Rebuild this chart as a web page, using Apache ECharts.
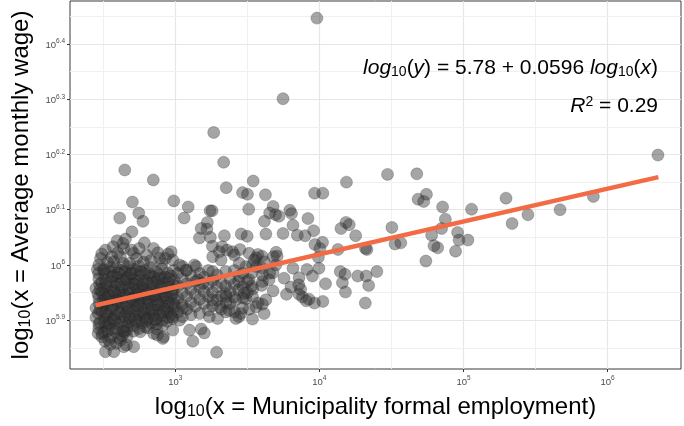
<!DOCTYPE html>
<html>
<head>
<meta charset="utf-8">
<script src="https://cdn.jsdelivr.net/npm/echarts@6/dist/echarts.min.js"></script>
<style>
  html, body { margin: 0; padding: 0; background: #fff; }
  #chart { width: 684px; height: 426px; }
</style>
</head>
<body>
<div id="chart"></div>
<script>
// every point is [log10(formal employment), log10(average monthly wage)]

// isolated high-wage municipalities
const outlierPoints = [
  [3.983, 6.447], [3.748, 6.301], [3.267, 6.240], [6.349, 6.199], [2.650, 6.172], [3.336, 6.186],
  [2.848, 6.154], [3.354, 6.140], [3.541, 6.152], [3.467, 6.131], [3.501, 6.128], [3.626, 6.127],
  [3.967, 6.130], [4.024, 6.130], [4.188, 6.150], [4.473, 6.164], [4.676, 6.165], [4.743, 6.128],
  [4.685, 6.119], [4.724, 6.115], [4.855, 6.105], [5.056, 6.101], [5.295, 6.121], [5.670, 6.100],
  [5.901, 6.124], [5.447, 6.091], [5.337, 6.075]
];

// scattered points around the cluster
const spreadPoints = [
  [2.703, 6.114], [2.990, 6.116], [2.747, 6.094], [2.776, 6.079], [2.615, 6.085], [3.090, 6.105],
  [3.062, 6.085], [3.242, 6.098], [3.256, 6.098], [3.510, 6.101], [3.223, 6.077], [3.679, 6.106],
  [3.655, 6.094], [3.696, 6.091], [3.720, 6.088], [3.619, 6.079], [3.795, 6.099], [3.807, 6.093],
  [3.817, 6.072], [3.921, 6.084], [3.220, 6.065], [3.168, 6.049], [3.244, 6.050], [3.341, 6.053],
  [3.458, 6.056], [3.499, 6.052], [3.629, 6.056], [3.748, 6.057], [3.847, 6.054], [3.901, 6.053],
  [3.960, 6.062], [3.969, 6.037], [4.022, 6.041], [4.150, 6.066], [4.185, 6.077], [4.207, 6.073],
  [4.252, 6.053], [4.503, 6.068], [4.525, 6.038], [4.565, 6.040], [4.320, 6.030], [4.330, 6.028],
  [4.129, 6.028], [4.004, 6.030], [4.779, 6.054], [4.821, 6.031], [4.795, 6.035], [4.874, 6.083],
  [4.739, 6.007], [3.993, 6.014], [3.700, 6.023], [3.681, 6.015], [3.707, 6.016], [3.573, 6.019],
  [3.562, 6.013], [3.603, 6.016], [3.449, 6.028], [3.398, 6.024], [3.359, 6.027], [3.325, 6.033],
  [3.258, 6.034], [3.490, 5.997], [3.605, 5.994], [3.536, 6.000], [3.698, 6.000], [3.655, 5.985],
  [3.679, 5.986], [3.817, 5.994], [3.914, 5.992], [3.859, 5.977], [3.997, 5.994], [3.755, 5.976],
  [3.605, 5.970], [3.513, 5.973], [3.444, 5.980], [4.043, 5.966], [3.952, 5.980], [3.803, 5.960],
  [3.772, 5.947], [3.859, 5.947], [3.883, 5.942], [3.928, 5.938], [3.966, 5.931], [4.024, 5.934],
  [4.145, 5.988], [4.178, 5.983], [4.160, 5.968], [4.181, 5.951], [4.266, 5.980], [4.325, 5.980],
  [4.342, 5.963], [4.399, 5.988], [4.319, 5.931], [3.679, 5.953], [3.600, 5.963], [3.539, 5.957],
  [3.536, 5.943], [3.490, 5.939], [3.575, 5.931], [3.605, 5.929], [3.513, 5.920], [3.412, 5.915],
  [3.442, 5.906], [3.311, 5.924], [3.352, 5.931], [4.848, 6.066], [4.959, 6.059], [4.969, 6.045],
  [5.031, 6.045], [4.945, 6.025], [3.870, 5.956], [3.857, 5.964], [3.909, 5.935], [3.180, 6.066],
  [3.306, 6.024], [3.260, 6.015], [3.318, 6.009], [2.972, 6.024], [2.983, 6.009], [3.052, 5.997],
  [3.145, 5.997], [3.513, 6.021], [3.548, 6.009], [3.564, 5.997], [2.983, 5.882], [3.099, 5.882],
  [3.180, 5.884], [3.202, 5.877], [3.122, 5.862], [3.287, 5.842], [2.979, 5.906], [3.030, 5.900],
  [3.237, 5.906], [3.294, 5.903], [3.352, 5.915], [3.421, 5.903], [3.456, 5.912], [3.536, 5.902],
  [3.052, 5.922], [3.479, 5.949], [3.560, 5.924], [2.700, 6.060], [2.655, 6.047], [2.786, 6.040],
  [2.850, 6.030], [2.597, 6.044], [2.569, 6.033], [2.516, 6.027], [2.482, 6.012], [2.470, 6.000],
  [2.505, 5.991], [2.643, 6.030], [2.712, 6.021], [2.684, 6.003], [2.574, 6.006], [2.931, 6.012],
  [2.907, 6.002], [2.493, 5.876], [2.539, 5.864], [2.620, 5.864], [2.666, 5.870], [2.758, 5.879],
  [2.850, 5.876], [2.919, 5.870], [2.516, 5.843], [2.574, 5.843], [2.643, 5.852], [2.712, 5.852],
  [2.638, 6.039], [2.696, 6.027], [2.731, 6.012], [2.638, 6.003], [2.892, 6.012], [3.030, 6.000],
  [3.076, 5.991], [3.133, 6.000], [3.156, 5.973], [3.191, 5.967], [3.260, 5.988], [3.410, 6.018],
  [3.444, 6.003], [3.617, 6.006], [3.605, 5.982], [3.651, 5.973], [3.260, 5.937], [3.352, 5.943],
  [3.421, 5.937], [3.467, 5.922], [3.629, 5.937], [3.617, 5.912], [3.375, 5.918], [2.914, 5.867],
  [2.876, 5.873], [2.662, 5.855], [2.465, 5.876],
  [2.49, 6.020], [2.56, 6.015], [2.60, 6.022], [2.75, 6.030], [2.80, 6.018], [2.83, 6.008],
  [2.95, 6.020], [2.53, 6.005], [2.62, 6.015], [2.78, 6.005], [2.88, 6.022]
];

// dense block of small municipalities (left)
const clusterPoints = [
  [2.468, 5.985], [2.475, 5.965], [2.463, 5.948], [2.472, 5.930], [2.466, 5.912], [2.478, 5.896], [2.470, 5.885],
  [2.505, 5.992], [2.512, 5.975], [2.508, 5.958], [2.515, 5.940], [2.502, 5.925], [2.510, 5.905], [2.518, 5.890],
  [2.507, 5.878], [2.513, 5.862],
  [2.548, 5.988], [2.553, 5.970], [2.545, 5.952], [2.556, 5.936], [2.550, 5.918], [2.543, 5.902], [2.558, 5.884], [2.551, 5.869],
  [2.588, 5.995], [2.594, 5.978], [2.585, 5.962], [2.597, 5.944], [2.590, 5.930], [2.583, 5.910], [2.596, 5.893],
  [2.589, 5.878], [2.592, 5.858],
  [2.627, 5.990], [2.634, 5.973], [2.622, 5.955], [2.636, 5.940], [2.629, 5.922], [2.625, 5.905], [2.638, 5.887], [2.631, 5.872],
  [2.668, 5.997], [2.673, 5.980], [2.664, 5.965], [2.676, 5.948], [2.670, 5.930], [2.662, 5.915], [2.675, 5.896], [2.667, 5.882],
  [2.708, 5.992], [2.714, 5.975], [2.705, 5.958], [2.716, 5.942], [2.709, 5.925], [2.703, 5.908], [2.712, 5.890],
  [2.748, 5.998], [2.754, 5.982], [2.745, 5.966], [2.757, 5.950], [2.750, 5.934], [2.743, 5.918], [2.755, 5.900], [2.749, 5.885],
  [2.788, 5.990], [2.795, 5.972], [2.785, 5.955], [2.797, 5.938], [2.790, 5.920], [2.783, 5.905], [2.792, 5.888],
  [2.828, 5.996], [2.834, 5.980], [2.825, 5.962], [2.836, 5.946], [2.830, 5.930], [2.823, 5.912], [2.833, 5.895],
  [2.868, 5.988], [2.874, 5.970], [2.865, 5.952], [2.876, 5.935], [2.870, 5.918], [2.863, 5.900], [2.872, 5.884],
  [2.908, 5.993], [2.914, 5.976], [2.905, 5.958], [2.916, 5.942], [2.910, 5.926], [2.903, 5.908], [2.912, 5.890],
  [2.948, 5.985], [2.954, 5.968], [2.945, 5.950], [2.956, 5.932], [2.950, 5.915], [2.943, 5.898],
  [2.988, 5.990], [2.994, 5.972], [2.985, 5.955], [2.996, 5.938], [2.990, 5.920], [2.983, 5.903],
  [2.45, 5.958], [2.45, 5.922], [2.45, 5.905], [2.47, 5.975], [2.47, 5.940], [2.47, 5.893],
  [2.49, 5.968], [2.49, 5.950], [2.49, 5.918], [2.49, 5.870], [2.51, 5.984], [2.51, 5.946], [2.51, 5.931], [2.51, 5.897],
  [2.53, 5.961], [2.53, 5.928], [2.53, 5.910], [2.53, 5.880], [2.55, 5.996], [2.55, 5.943], [2.55, 5.893], [2.55, 5.856],
  [2.57, 5.980], [2.57, 5.955], [2.57, 5.922], [2.57, 5.902], [2.59, 5.968], [2.59, 5.937], [2.59, 5.885],
  [2.61, 5.985], [2.61, 5.950], [2.61, 5.915], [2.61, 5.868], [2.63, 5.960], [2.63, 5.930], [2.63, 5.897],
  [2.65, 5.988], [2.65, 5.945], [2.65, 5.908], [2.65, 5.878], [2.67, 5.972], [2.67, 5.922], [2.67, 5.889],
  [2.69, 5.984], [2.69, 5.950], [2.69, 5.903], [2.71, 5.966], [2.71, 5.933], [2.71, 5.917], [2.71, 5.880],
  [2.73, 5.990], [2.73, 5.945], [2.73, 5.898], [2.75, 5.972], [2.75, 5.926], [2.75, 5.910],
  [2.77, 5.960], [2.77, 5.945], [2.77, 5.895], [2.79, 5.983], [2.79, 5.930], [2.79, 5.912],
  [2.81, 5.968], [2.81, 5.940], [2.81, 5.903], [2.81, 5.886], [2.83, 5.955], [2.83, 5.921],
  [2.85, 5.978], [2.85, 5.944], [2.85, 5.908], [2.87, 5.962], [2.87, 5.927], [2.87, 5.893],
  [2.89, 5.982], [2.89, 5.948], [2.89, 5.912], [2.91, 5.966], [2.91, 5.933], [2.91, 5.900],
  [2.93, 5.978], [2.93, 5.946], [2.93, 5.920], [2.95, 5.960], [2.95, 5.925], [2.95, 5.905],
  [2.97, 5.980], [2.97, 5.943], [2.97, 5.912], [2.99, 5.963], [2.99, 5.930],
  [2.46, 5.992], [2.48, 5.955], [2.48, 5.918], [2.50, 5.935], [2.52, 5.968], [2.52, 5.915], [2.54, 5.945], [2.54, 5.895],
  [2.56, 5.978], [2.56, 5.925], [2.58, 5.950], [2.58, 5.900], [2.60, 5.985], [2.60, 5.935], [2.62, 5.965], [2.62, 5.912],
  [2.64, 5.945], [2.64, 5.880], [2.66, 5.975], [2.66, 5.928], [2.68, 5.958], [2.68, 5.905], [2.70, 5.985], [2.70, 5.938],
  [2.72, 5.965], [2.72, 5.902], [2.74, 5.955], [2.74, 5.925], [2.76, 5.988], [2.76, 5.940], [2.78, 5.965], [2.78, 5.915],
  [2.80, 5.948], [2.80, 5.900], [2.82, 5.985], [2.82, 5.935], [2.84, 5.968], [2.84, 5.918], [2.86, 5.945], [2.86, 5.902],
  [2.88, 5.975], [2.88, 5.928], [2.90, 5.960], [2.92, 5.915], [2.94, 5.940], [2.96, 5.975], [2.98, 5.948], [3.00, 5.925]
];

// medium-density zone (about 1,000 to 3,500 jobs)
const midPoints = [
  [3.02, 5.985], [3.02, 5.962], [3.02, 5.940], [3.02, 5.915], [3.05, 5.975], [3.05, 5.950], [3.05, 5.928], [3.05, 5.906],
  [3.08, 5.990], [3.08, 5.966], [3.08, 5.943], [3.08, 5.920], [3.11, 5.980], [3.11, 5.955], [3.11, 5.932], [3.11, 5.910],
  [3.14, 5.970], [3.14, 5.947], [3.14, 5.925], [3.17, 5.985], [3.17, 5.960], [3.17, 5.938], [3.17, 5.912],
  [3.20, 5.978], [3.20, 5.952], [3.20, 5.930], [3.23, 5.990], [3.23, 5.965], [3.23, 5.943], [3.23, 5.918],
  [3.26, 5.972], [3.26, 5.950], [3.26, 5.926], [3.29, 5.982], [3.29, 5.960], [3.29, 5.936],
  [3.32, 5.968], [3.32, 5.944], [3.32, 5.920], [3.35, 5.988], [3.35, 5.962], [3.35, 5.948],
  [3.38, 5.975], [3.38, 5.952], [3.38, 5.930], [3.41, 5.990], [3.41, 5.965], [3.41, 5.942],
  [3.44, 5.970], [3.44, 5.955], [3.47, 5.985], [3.47, 5.960], [3.47, 5.940], [3.50, 5.970], [3.50, 5.950],
  [3.53, 5.985], [3.53, 5.962]
];

// fitted line, ends
const fitX = [2.449, 6.352];
const fitY = [5.927, 6.159];

const xTicks = [3, 4, 5, 6];
const yTicks = [5.9, 6, 6.1, 6.2, 6.3, 6.4];
const xMinorGrid = [2.5, 3.5, 4.5, 5.5];
const yMinorGrid = [5.85, 5.95, 6.05, 6.15, 6.25, 6.35, 6.45];

const chart = echarts.init(document.getElementById('chart'));

const tickColor = '#4d4d4d';
function powLabel(v) {
  const p = Math.abs(v - Math.round(v)) < 1e-6 ? String(Math.round(v)) : v.toFixed(1);
  return '{b|10}{s|' + p + '}';
}
const labelRich = {
  b: { fontSize: 9.5, color: tickColor, fontFamily: 'Liberation Sans', verticalAlign: 'bottom' },
  s: { fontSize: 6.5, color: tickColor, fontFamily: 'Liberation Sans', verticalAlign: 'top', padding: [0, 0, 5, 0] }
};
const nameRich = {
  t: { fontSize: 24, color: '#000', fontFamily: 'Liberation Sans' },
  sub: { fontSize: 16, color: '#000', fontFamily: 'Liberation Sans', padding: [9, 0, 0, 0] }
};

const gridLines = [];
xTicks.forEach(v => gridLines.push({ xAxis: v, lineStyle: { color: '#e6e6e6', width: 1.2 } }));
xMinorGrid.forEach(v => gridLines.push({ xAxis: v, lineStyle: { color: '#f0f0f0', width: 1 } }));
yTicks.forEach(v => gridLines.push({ yAxis: v, lineStyle: { color: '#e6e6e6', width: 1.2 } }));
yMinorGrid.forEach(v => gridLines.push({ yAxis: v, lineStyle: { color: '#f0f0f0', width: 1 } }));

const eqRich = {
  i: { fontSize: 21, fontStyle: 'italic', fontFamily: 'Liberation Sans', color: '#000' },
  n: { fontSize: 21, fontFamily: 'Liberation Sans', color: '#000' },
  sub: { fontSize: 14, fontFamily: 'Liberation Sans', color: '#000', padding: [8, 0, 0, 0] },
  sup: { fontSize: 14, fontFamily: 'Liberation Sans', color: '#000', verticalAlign: 'top', padding: [0, 0, 9, 0] }
};

const pointStyle = {
  color: 'rgba(51,51,51,0.55)',
  borderColor: 'rgba(25,25,25,0.5)',
  borderWidth: 0.6
};

const option = {
  animation: false,
  grid: {
    left: 70,
    right: 3,
    top: 1,
    bottom: 57,
    show: true,
    borderColor: '#3a3a3a',
    borderWidth: 1
  },
  xAxis: {
    type: 'value',
    min: 2.27,
    max: 6.509,
    axisLine: { show: false },
    splitLine: { show: false },
    axisTick: { show: true, length: 3, customValues: xTicks, lineStyle: { color: '#333' } },
    axisLabel: { customValues: xTicks, margin: 6, formatter: powLabel, rich: labelRich },
    name: '{t|log}{sub|10}{t|(x = Municipality formal employment)}',
    nameLocation: 'middle',
    nameGap: 26,
    nameTextStyle: { rich: nameRich }
  },
  yAxis: {
    type: 'value',
    min: 5.8116,
    max: 6.478,
    axisLine: { show: false },
    splitLine: { show: false },
    axisTick: { show: true, length: 3, customValues: yTicks, lineStyle: { color: '#333' } },
    axisLabel: { customValues: yTicks, margin: 5, formatter: powLabel, rich: labelRich },
    name: '{t|log}{sub|10}{t|(x = Average monthly wage)}',
    nameLocation: 'middle',
    nameGap: 36,
    nameTextStyle: { rich: nameRich }
  },
  graphic: [
    {
      type: 'text',
      right: 26,
      top: 58,
      z: 100,
      style: {
        text: '{i|log}{sub|10}{n|(}{i|y}{n|) = 5.78 + 0.0596 }{i|log}{sub|10}{n|(}{i|x}{n|)}',
        rich: eqRich
      }
    },
    {
      type: 'text',
      right: 26,
      top: 95,
      z: 100,
      style: { text: '{i|R}{sup|2}{n| = 0.29}', rich: eqRich }
    }
  ],
  series: [
    {
      name: 'grid',
      type: 'scatter',
      data: [],
      silent: true,
      markLine: {
        silent: true,
        z: 0,
        symbol: 'none',
        label: { show: false },
        lineStyle: { type: 'solid' },
        data: gridLines
      }
    },
    { name: 'cluster', type: 'scatter', z: 3, symbolSize: 12, itemStyle: pointStyle, data: clusterPoints },
    { name: 'mid', type: 'scatter', z: 3, symbolSize: 12, itemStyle: pointStyle, data: midPoints },
    { name: 'spread', type: 'scatter', z: 3, symbolSize: 12, itemStyle: pointStyle, data: spreadPoints },
    { name: 'outliers', type: 'scatter', z: 3, symbolSize: 12, itemStyle: pointStyle, data: outlierPoints },
    {
      name: 'fit',
      type: 'line',
      z: 5,
      symbol: 'none',
      lineStyle: { color: '#f26b45', width: 4.5 },
      data: fitX.map((x, i) => [x, fitY[i]])
    }
  ]
};

chart.setOption(option);
</script>
</body>
</html>
